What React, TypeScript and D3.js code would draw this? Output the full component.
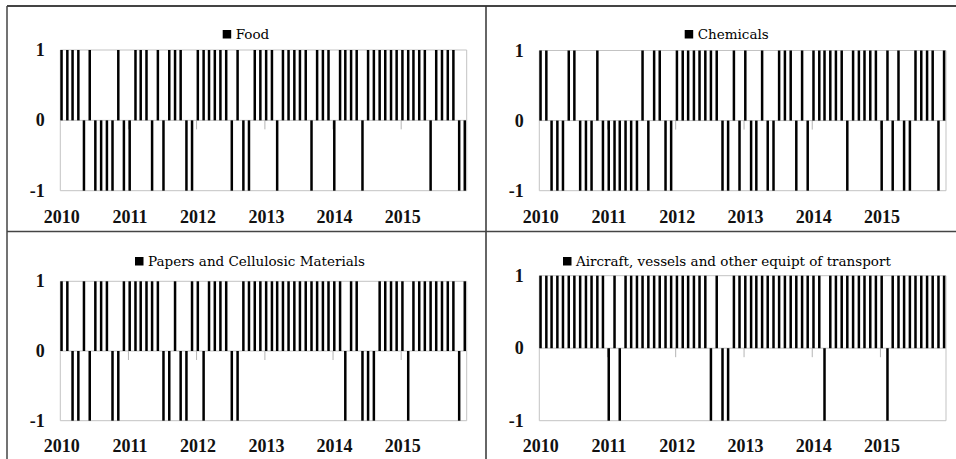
import * as d3 from "d3";

// monthly sign series, Jan 2010 .. Dec 2015 (72 months)
const food = [
  1, 1, 1, 1, -1, 1, -1, -1, -1, -1, 1, -1,
  -1, 1, 1, 1, -1, 1, -1, 1, 1, 1, -1, -1,
  1, 1, 1, 1, 1, 1, -1, 1, -1, -1, 1, 1,
  1, 1, -1, 1, 1, 1, 1, 1, -1, 1, 1, 1,
  -1, 1, 1, 1, 1, -1, 1, 1, 1, 1, 1, 1,
  1, 1, 1, 1, 1, -1, 1, 1, 1, 1, -1, -1,
];
const chemicals = [
  1, 1, -1, -1, -1, 1, 1, -1, -1, -1, 1, -1,
  -1, -1, -1, -1, -1, -1, 1, -1, 1, 1, -1, -1,
  1, 1, 1, 1, 1, 1, 1, 1, -1, -1, 1, -1,
  1, -1, -1, 1, -1, -1, 1, 1, 1, -1, 1, -1,
  1, 1, 1, 1, 1, 1, -1, 1, 1, 1, 1, 1,
  -1, 1, -1, 1, -1, -1, 1, 1, 1, 1, -1, 1,
];
const papers = [
  1, 1, -1, -1, 1, -1, 1, 1, 1, -1, -1, 1,
  1, 1, 1, 1, 1, 1, -1, -1, 1, -1, -1, 1,
  1, -1, 1, 1, 1, 1, -1, -1, 1, 1, 1, 1,
  1, 1, 1, 1, 1, 1, 1, 1, 1, 1, 1, 1,
  1, 1, -1, 1, 1, -1, -1, -1, 1, 1, 1, 1,
  1, -1, 1, 1, 1, 1, 1, 1, 1, 1, -1, 1,
];
const aircraft = [
  1, 1, 1, 1, 1, 1, 1, 1, 1, 1, 1, 1,
  -1, 1, -1, 1, 1, 1, 1, 1, 1, 1, 1, 1,
  1, 1, 1, 1, 1, 1, -1, 1, -1, -1, 1, 1,
  1, 1, 1, 1, 1, 1, 1, 1, 1, 1, 1, 1,
  1, 1, -1, 1, 1, 1, 1, 1, 1, 1, 1, 1,
  1, -1, 1, 1, 1, 1, 1, 1, 1, 1, 1, 1,
];
const titles = [
  "Food",
  "Chemicals",
  "Papers and Cellulosic Materials",
  "Aircraft, vessels and other equipt of transport",
];
const yTicks = [1, 0, -1];

const months = d3.range(72).map((i) => new Date(2010, i, 1));

const AXIS_FONT = "'Liberation Serif', 'Times New Roman', serif";
const TITLE_FONT = "'DejaVu Serif', serif";

type PanelProps = {
  title: string;
  values: number[];
  left: number;
  right: number;
  top: number;
  bottom: number;
  labelY: number;
  legendX: number;
  legendY: number;
};

function Panel({ title, values, left, right, top, bottom, labelY, legendX, legendY }: PanelProps) {
  const x = d3.scaleTime()
    .domain([new Date(2010, 0, 1), new Date(2015, 11, 18)])
    .range([left, right]);
  const y = d3.scaleLinear().domain([-1, 1]).range([bottom, top]);
  const years = x.ticks(d3.timeYear.every(1)!);
  const grid = "#c3c3c3";

  return (
    <g>
      {/* legend */}
      <rect x={legendX} y={legendY - 9} width={8.5} height={8.5} fill="#000" />
      <text x={legendX + 13} y={legendY} fontFamily={TITLE_FONT} fontSize={13.5} fill="#000">
        {title}
      </text>

      {/* gridlines + plot box */}
      {yTicks.map((t) => (
        <line key={t} x1={left} x2={right} y1={y(t)} y2={y(t)} stroke={grid} strokeWidth={1} />
      ))}
      <line x1={left} x2={left} y1={y(1)} y2={y(-1)} stroke={grid} />
      <line x1={right} x2={right} y1={y(1)} y2={y(-1)} stroke={grid} />

      {/* year ticks below the zero line */}
      {years.slice(1).map((d) => (
        <line key={+d} x1={x(d)} x2={x(d)} y1={y(0)} y2={y(0) + 9} stroke="#b5b5b5" />
      ))}

      {/* bars */}
      {values.map((v, i) => (
        <rect
          key={i}
          x={x(months[i])}
          width={2.5}
          y={Math.min(y(0), y(v))}
          height={Math.abs(y(v) - y(0))}
          fill="#000"
        />
      ))}

      {/* y labels */}
      {yTicks.map((t) => (
        <text
          key={t}
          x={left - 15.5}
          y={y(t) + 6}
          textAnchor="end"
          fontFamily={AXIS_FONT}
          fontWeight="bold"
          fontSize={18}
          fill="#111"
        >
          {t}
        </text>
      ))}

      {/* year labels */}
      {years.map((d) => (
        <text
          key={+d}
          x={x(d) + 1.5}
          y={labelY}
          textAnchor="middle"
          fontFamily={AXIS_FONT}
          fontWeight="bold"
          fontSize={18}
          fill="#111"
        >
          {d.getFullYear()}
        </text>
      ))}
    </g>
  );
}

export default function App() {
  const series = [food, chemicals, papers, aircraft];
  const layout = [
    { left: 60.3, right: 466.7, top: 50, bottom: 190.7, labelY: 222.8, legendX: 222.7, legendY: 39 },
    { left: 539.3, right: 946, top: 50.5, bottom: 190.7, labelY: 222.8, legendX: 684.7, legendY: 39 },
    { left: 60.3, right: 466.7, top: 281.3, bottom: 420.7, labelY: 451.8, legendX: 135, legendY: 266 },
    { left: 539.3, right: 946, top: 275.7, bottom: 420.7, labelY: 451.8, legendX: 563, legendY: 266 },
  ];

  return (
    <div style={{ position: "absolute", left: 0, top: 0 }}>
      <svg width={956} height={459} style={{ display: "block", background: "#fff" }}>
        <rect x={0} y={0} width={956} height={459} fill="#fff" />
        {/* frame and dividers */}
        <line x1={7} x2={956} y1={6} y2={6} stroke="#444" strokeWidth={2} />
        <line x1={7} x2={7} y1={6} y2={459} stroke="#444" strokeWidth={1.5} />
        <line x1={486} x2={486} y1={6} y2={459} stroke="#333" strokeWidth={1.5} />
        <line x1={7} x2={956} y1={231.5} y2={231.5} stroke="#444" strokeWidth={1.5} />
        {series.map((s, i) => (
          <Panel key={titles[i]} title={titles[i]} values={s} {...layout[i]} />
        ))}
      </svg>
    </div>
  );
}
